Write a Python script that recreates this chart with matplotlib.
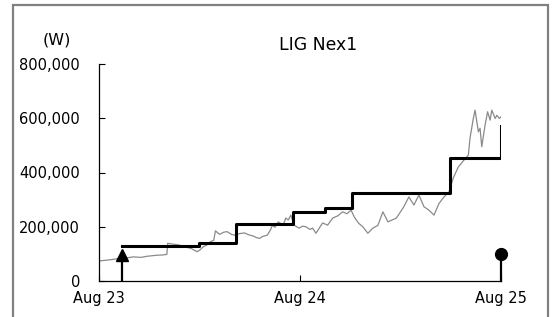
import matplotlib.pyplot as plt
from matplotlib.patches import Rectangle

# price series (hours since Aug 23 00:00, W in thousands)
price_hours = [0.0, 1.0, 2.0, 2.7, 3.5, 4.1, 5.0, 5.7, 6.3, 6.9, 7.6, 8.1, 8.2, 8.8,
               9.5, 10.0, 10.5, 11.0, 11.7, 12.0, 12.4, 13.0, 13.3, 13.7, 13.9, 14.4,
               14.9, 15.3, 15.8, 16.2, 16.8, 17.4, 17.9, 18.4, 18.8, 19.2, 19.5, 20.1,
               20.5, 20.7, 21.0, 21.4, 22.0, 22.3, 22.6, 22.9, 23.3, 23.6, 23.9, 24.3,
               24.7, 25.2, 25.5, 25.9, 26.3, 26.7, 27.3, 27.9, 28.5, 29.1, 29.6, 30.1,
               30.5, 31.0, 31.5, 32.1, 32.7, 33.3, 33.9, 34.5, 35.0, 35.5, 36.0, 36.4,
               37.0, 37.6, 38.2, 38.8, 39.4, 40.0, 40.6, 41.2, 41.8, 42.3, 42.9, 43.5,
               44.1, 44.3, 44.7, 44.9, 45.3, 45.5, 45.7, 46.1, 46.4, 46.7, 46.9, 47.3,
               47.5, 47.8, 48.0]
price_k = [74, 77, 81, 85, 86, 89, 87, 91, 93, 95, 96, 98, 139, 136,
           133, 128, 124, 120, 108, 113, 125, 135, 145, 150, 185, 172,
           180, 182, 172, 169, 175, 177, 170, 166, 160, 157, 164, 169,
           190, 206, 198, 218, 206, 232, 225, 243, 206, 200, 195, 202,
           200, 190, 195, 176, 195, 214, 206, 232, 240, 255, 248, 261,
           235, 213, 200, 176, 195, 205, 255, 218, 225, 232, 255, 274,
           310, 280, 317, 274, 261, 243, 286, 310, 329, 380, 420, 443,
           464, 527, 600, 630, 550, 563, 495, 575, 624, 593, 630, 599,
           611, 599, 605]

# held level (step line)
step_hours = [2.7, 11.9, 16.4, 23.2, 27.0, 30.2, 41.9, 48.0]
step_k = [129, 139, 209, 255, 270, 323, 453, 571]

# entry / exit markers
buy_hour, buy_k = 2.7, 117
sell_hour, sell_k = 48.0, 99

tick_hours = [0, 24, 48]
tick_labels = ["Aug 23", "Aug 24", "Aug 25"]
ytick_k = [0, 200, 400, 600, 800]

fig = plt.figure(figsize=(5.52, 3.17), dpi=100)
ax = fig.add_axes([99 / 552, 1 - 281 / 317, (501 - 99) / 552, (281 - 64) / 317])

ax.plot(price_hours, [v * 1000 for v in price_k], color="#8a8a8a", lw=0.9, zorder=2)
ax.step(step_hours, [v * 1000 for v in step_k], where="post", color="black",
        lw=2.2, zorder=3)

# buy arrow
ax.plot([buy_hour, buy_hour], [0, buy_k * 1000 - 20000], color="black", lw=1.6,
        zorder=4, solid_capstyle="butt")
ax.plot([buy_hour], [buy_k * 1000 - 20000], marker="^", color="black", ms=8.5,
        zorder=4, clip_on=False)
# sell stem
ax.plot([sell_hour, sell_hour], [0, sell_k * 1000], color="black", lw=1.6,
        zorder=4, clip_on=False)
ax.plot([sell_hour], [sell_k * 1000], marker="o", color="black", ms=8.5,
        zorder=5, clip_on=False)

ax.set_xlim(0, 48)
ax.set_ylim(0, 800000)
ax.set_xticks(tick_hours)
ax.set_xticklabels(tick_labels)
ax.set_yticks([v * 1000 for v in ytick_k])
ax.set_yticklabels(["{:,}".format(v * 1000) for v in ytick_k])
ax.tick_params(axis="y", direction="in", length=4, width=0.8, pad=13.5,
               labelsize=10.5)
ax.tick_params(axis="x", direction="in", length=4, width=0.8, pad=7,
               labelsize=10.5)
for s in ["top", "right"]:
    ax.spines[s].set_visible(False)
for s in ["left", "bottom"]:
    ax.spines[s].set_linewidth(0.9)

fig.text(57 / 552, 1 - 40 / 317, "(W)", ha="center", va="center", fontsize=11.5)
fig.text(318 / 552, 1 - 45 / 317, "LIG Nex1", ha="center", va="center",
         fontsize=12.4)

fig.patches.append(Rectangle((13 / 552, -0.05), (548 - 13) / 552, 1 - 5 / 317 + 0.05,
                             transform=fig.transFigure, fill=False,
                             edgecolor="#808080", lw=1.6))

fig.savefig("out.png", dpi=100)
